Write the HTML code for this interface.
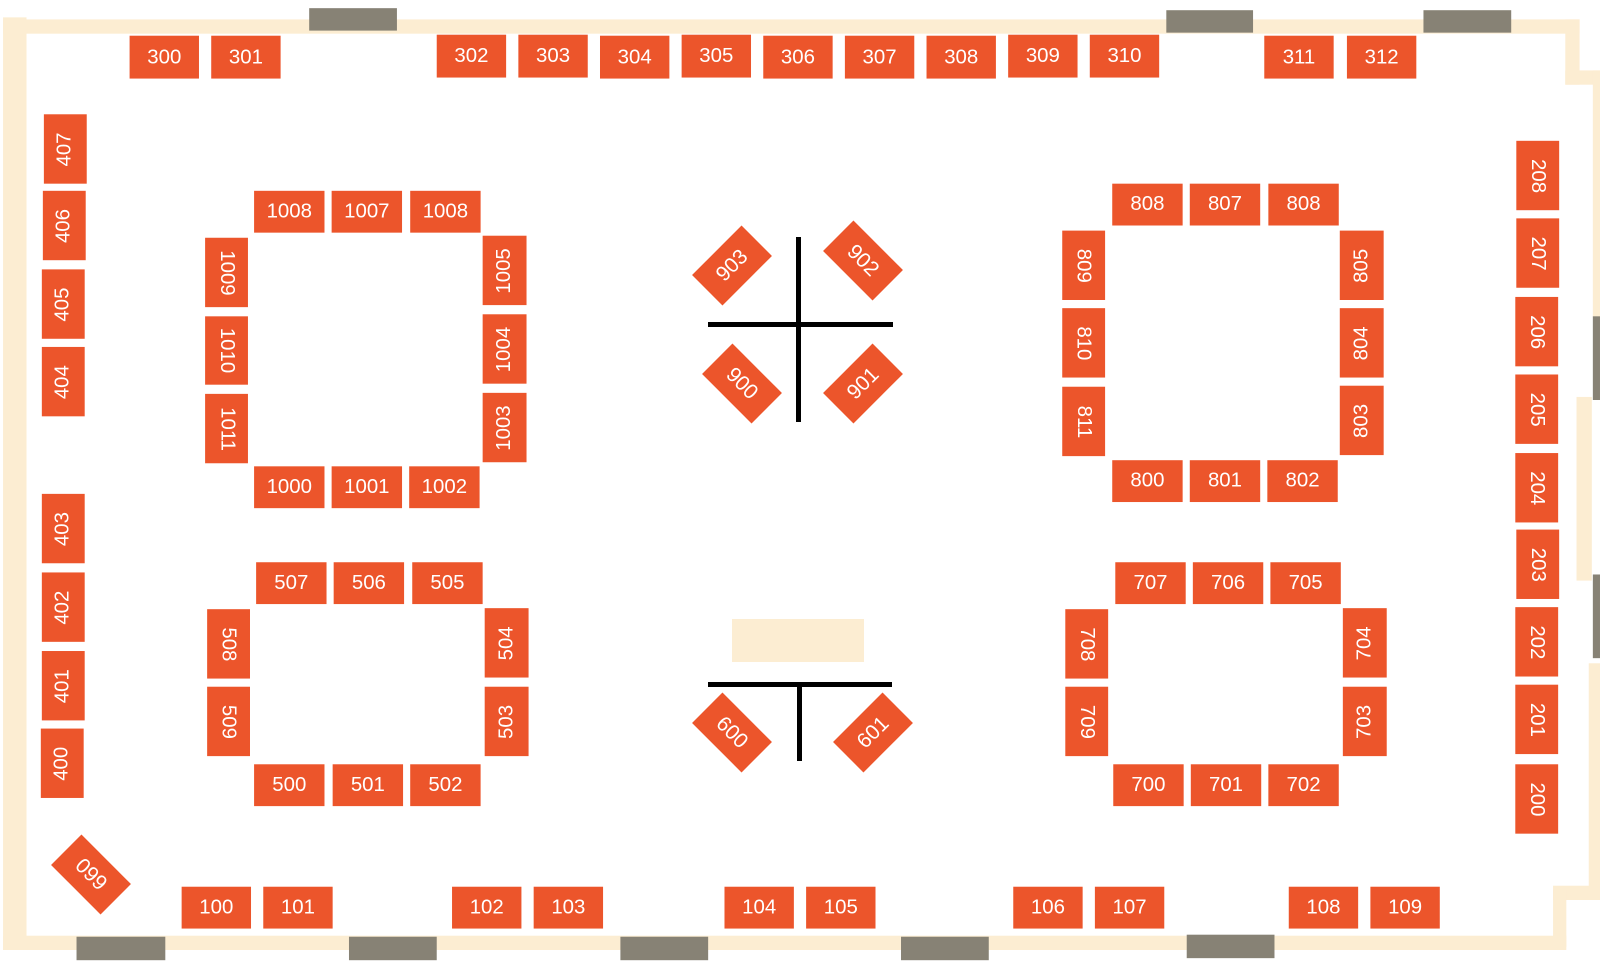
<!DOCTYPE html>
<html><head><meta charset="utf-8"><style>
html,body{margin:0;padding:0;background:#fff;}
#root{position:relative;width:1600px;height:964px;overflow:hidden;background:#fff;}
#s{position:absolute;left:0;top:0;width:1568px;height:945px;transform:scale(1.0204);transform-origin:0 0;}
.w{position:absolute;background:#FCEDD2;}
.d{position:absolute;background:#878275;}
.b{position:absolute;background:#EC552B;color:#fff;font-family:"Liberation Sans",sans-serif;font-size:20px;display:flex;align-items:center;justify-content:center;box-sizing:border-box;}
.b span{display:block;white-space:nowrap;}
.cw span{transform:rotate(90deg);}
.ccw span{transform:rotate(-90deg);}
.k{position:absolute;background:#000;}
.dm{position:absolute;width:70px;height:43px;background:#EC552B;color:#fff;font-family:"Liberation Sans",sans-serif;font-size:21px;display:flex;align-items:center;justify-content:center;}
</style></head><body><div id="root">
<div id="s">
<!-- walls -->
<div class="w" style="left:3px;top:17px;width:23px;height:914px"></div>
<div class="w" style="left:3px;top:19px;width:1545px;height:14px"></div>
<div class="w" style="left:1534px;top:19px;width:14px;height:64px"></div>
<div class="w" style="left:1534px;top:69px;width:34px;height:14px"></div>
<div class="w" style="left:1561px;top:69px;width:7px;height:242px"></div>
<div class="w" style="left:1545px;top:389px;width:15px;height:180px"></div>
<div class="w" style="left:1557px;top:650px;width:11px;height:219px"></div>
<div class="w" style="left:1522px;top:868px;width:46px;height:14px"></div>
<div class="w" style="left:1522px;top:872px;width:13px;height:56px"></div>
<div class="w" style="left:3px;top:917px;width:1532px;height:14px"></div>
<!-- doors -->
<div class="d" style="left:303px;top:8px;width:86px;height:22px"></div>
<div class="d" style="left:1143px;top:10px;width:85px;height:22px"></div>
<div class="d" style="left:1395px;top:10px;width:86px;height:22px"></div>
<div class="d" style="left:1561px;top:310px;width:7px;height:82px"></div>
<div class="d" style="left:1561px;top:563px;width:7px;height:82px"></div>
<div class="d" style="left:75px;top:918px;width:87px;height:23px"></div>
<div class="d" style="left:342px;top:918px;width:86px;height:23px"></div>
<div class="d" style="left:608px;top:918px;width:86px;height:23px"></div>
<div class="d" style="left:883px;top:918px;width:86px;height:23px"></div>
<div class="d" style="left:1163px;top:916px;width:86px;height:23px"></div>
<!-- top row -->
<div class="b" style="left:127px;top:35px;width:68px;height:42px"><span>300</span></div>
<div class="b" style="left:207px;top:35px;width:68px;height:42px"><span>301</span></div>
<div class="b" style="left:428px;top:34px;width:68px;height:42px"><span>302</span></div>
<div class="b" style="left:508px;top:34px;width:68px;height:42px"><span>303</span></div>
<div class="b" style="left:588px;top:35px;width:68px;height:42px"><span>304</span></div>
<div class="b" style="left:668px;top:34px;width:68px;height:42px"><span>305</span></div>
<div class="b" style="left:748px;top:35px;width:68px;height:42px"><span>306</span></div>
<div class="b" style="left:828px;top:35px;width:68px;height:42px"><span>307</span></div>
<div class="b" style="left:908px;top:35px;width:68px;height:42px"><span>308</span></div>
<div class="b" style="left:988px;top:34px;width:68px;height:42px"><span>309</span></div>
<div class="b" style="left:1068px;top:34px;width:68px;height:42px"><span>310</span></div>
<div class="b" style="left:1239px;top:35px;width:68px;height:42px"><span>311</span></div>
<div class="b" style="left:1320px;top:35px;width:68px;height:42px"><span>312</span></div>
<!-- left column -->
<div class="b ccw" style="left:43px;top:112px;width:42px;height:68px"><span>407</span></div>
<div class="b ccw" style="left:42px;top:187px;width:42px;height:68px"><span>406</span></div>
<div class="b ccw" style="left:41px;top:264px;width:42px;height:68px"><span>405</span></div>
<div class="b ccw" style="left:41px;top:340px;width:42px;height:68px"><span>404</span></div>
<div class="b ccw" style="left:41px;top:484px;width:42px;height:68px"><span>403</span></div>
<div class="b ccw" style="left:41px;top:561px;width:42px;height:68px"><span>402</span></div>
<div class="b ccw" style="left:41px;top:638px;width:42px;height:68px"><span>401</span></div>
<div class="b ccw" style="left:40px;top:714px;width:42px;height:68px"><span>400</span></div>
<!-- right column -->
<div class="b cw" style="left:1486px;top:138px;width:42px;height:68px"><span>208</span></div>
<div class="b cw" style="left:1486px;top:214px;width:42px;height:68px"><span>207</span></div>
<div class="b cw" style="left:1485px;top:291px;width:42px;height:68px"><span>206</span></div>
<div class="b cw" style="left:1485px;top:367px;width:42px;height:68px"><span>205</span></div>
<div class="b cw" style="left:1485px;top:444px;width:42px;height:68px"><span>204</span></div>
<div class="b cw" style="left:1486px;top:519px;width:42px;height:68px"><span>203</span></div>
<div class="b cw" style="left:1485px;top:595px;width:42px;height:68px"><span>202</span></div>
<div class="b cw" style="left:1485px;top:671px;width:42px;height:68px"><span>201</span></div>
<div class="b cw" style="left:1485px;top:749px;width:42px;height:68px"><span>200</span></div>
<!-- bottom row -->
<div class="b" style="left:178px;top:869px;width:68px;height:41px"><span>100</span></div>
<div class="b" style="left:258px;top:869px;width:68px;height:41px"><span>101</span></div>
<div class="b" style="left:443px;top:869px;width:68px;height:41px"><span>102</span></div>
<div class="b" style="left:523px;top:869px;width:68px;height:41px"><span>103</span></div>
<div class="b" style="left:710px;top:869px;width:68px;height:41px"><span>104</span></div>
<div class="b" style="left:790px;top:869px;width:68px;height:41px"><span>105</span></div>
<div class="b" style="left:993px;top:869px;width:68px;height:41px"><span>106</span></div>
<div class="b" style="left:1073px;top:869px;width:68px;height:41px"><span>107</span></div>
<div class="b" style="left:1263px;top:869px;width:68px;height:41px"><span>108</span></div>
<div class="b" style="left:1343px;top:869px;width:68px;height:41px"><span>109</span></div>
<!-- group 1000 -->
<div class="b" style="left:249px;top:187px;width:69px;height:41px"><span>1008</span></div>
<div class="b" style="left:325px;top:187px;width:69px;height:41px"><span>1007</span></div>
<div class="b" style="left:402px;top:187px;width:69px;height:41px"><span>1008</span></div>
<div class="b cw" style="left:201px;top:233px;width:42px;height:68px"><span>1009</span></div>
<div class="b cw" style="left:201px;top:310px;width:42px;height:67px"><span>1010</span></div>
<div class="b cw" style="left:201px;top:386px;width:42px;height:68px"><span>1011</span></div>
<div class="b ccw" style="left:473px;top:231px;width:43px;height:68px"><span>1005</span></div>
<div class="b ccw" style="left:473px;top:308px;width:43px;height:68px"><span>1004</span></div>
<div class="b ccw" style="left:473px;top:385px;width:43px;height:68px"><span>1003</span></div>
<div class="b" style="left:249px;top:457px;width:69px;height:41px"><span>1000</span></div>
<div class="b" style="left:325px;top:457px;width:69px;height:41px"><span>1001</span></div>
<div class="b" style="left:401px;top:457px;width:69px;height:41px"><span>1002</span></div>
<!-- group 500 -->
<div class="b" style="left:251px;top:551px;width:69px;height:41px"><span>507</span></div>
<div class="b" style="left:327px;top:551px;width:69px;height:41px"><span>506</span></div>
<div class="b" style="left:404px;top:551px;width:69px;height:41px"><span>505</span></div>
<div class="b cw" style="left:203px;top:597px;width:42px;height:68px"><span>508</span></div>
<div class="b cw" style="left:203px;top:673px;width:42px;height:68px"><span>509</span></div>
<div class="b ccw" style="left:475px;top:596px;width:43px;height:68px"><span>504</span></div>
<div class="b ccw" style="left:475px;top:673px;width:43px;height:68px"><span>503</span></div>
<div class="b" style="left:249px;top:749px;width:69px;height:41px"><span>500</span></div>
<div class="b" style="left:326px;top:749px;width:69px;height:41px"><span>501</span></div>
<div class="b" style="left:402px;top:749px;width:69px;height:41px"><span>502</span></div>
<!-- group 800 -->
<div class="b" style="left:1090px;top:180px;width:69px;height:41px"><span>808</span></div>
<div class="b" style="left:1166px;top:180px;width:69px;height:41px"><span>807</span></div>
<div class="b" style="left:1243px;top:180px;width:69px;height:41px"><span>808</span></div>
<div class="b cw" style="left:1041px;top:226px;width:42px;height:68px"><span>809</span></div>
<div class="b cw" style="left:1041px;top:302px;width:42px;height:68px"><span>810</span></div>
<div class="b cw" style="left:1041px;top:379px;width:42px;height:68px"><span>811</span></div>
<div class="b ccw" style="left:1313px;top:226px;width:43px;height:68px"><span>805</span></div>
<div class="b ccw" style="left:1313px;top:302px;width:43px;height:68px"><span>804</span></div>
<div class="b ccw" style="left:1313px;top:378px;width:43px;height:68px"><span>803</span></div>
<div class="b" style="left:1090px;top:451px;width:69px;height:41px"><span>800</span></div>
<div class="b" style="left:1166px;top:451px;width:69px;height:41px"><span>801</span></div>
<div class="b" style="left:1242px;top:451px;width:69px;height:41px"><span>802</span></div>
<!-- group 700 -->
<div class="b" style="left:1093px;top:551px;width:69px;height:41px"><span>707</span></div>
<div class="b" style="left:1169px;top:551px;width:69px;height:41px"><span>706</span></div>
<div class="b" style="left:1245px;top:551px;width:69px;height:41px"><span>705</span></div>
<div class="b cw" style="left:1044px;top:597px;width:42px;height:68px"><span>708</span></div>
<div class="b cw" style="left:1044px;top:673px;width:42px;height:68px"><span>709</span></div>
<div class="b ccw" style="left:1316px;top:596px;width:43px;height:68px"><span>704</span></div>
<div class="b ccw" style="left:1316px;top:673px;width:43px;height:68px"><span>703</span></div>
<div class="b" style="left:1091px;top:749px;width:69px;height:41px"><span>700</span></div>
<div class="b" style="left:1167px;top:749px;width:69px;height:41px"><span>701</span></div>
<div class="b" style="left:1243px;top:749px;width:69px;height:41px"><span>702</span></div>
</div>
<!-- center in original coords -->
<div class="k" style="left:796px;top:237px;width:5px;height:185px"></div>
<div class="k" style="left:708px;top:322px;width:185px;height:5px"></div>
<div class="dm" style="left:697px;top:244px;transform:rotate(-45deg)">903</div>
<div class="dm" style="left:828px;top:239px;transform:rotate(45deg)">902</div>
<div class="dm" style="left:707px;top:362px;transform:rotate(45deg)">900</div>
<div class="dm" style="left:828px;top:362px;transform:rotate(-45deg)">901</div>
<div class="w" style="left:732px;top:619px;width:132px;height:43px"></div>
<div class="k" style="left:708px;top:682px;width:184px;height:5px"></div>
<div class="k" style="left:797px;top:684px;width:5px;height:77px"></div>
<div class="dm" style="left:697px;top:711px;transform:rotate(45deg)">600</div>
<div class="dm" style="left:838px;top:711px;transform:rotate(-45deg)">601</div>
<div class="dm" style="left:56px;top:853px;transform:rotate(45deg)">099</div>
</div></body></html>
